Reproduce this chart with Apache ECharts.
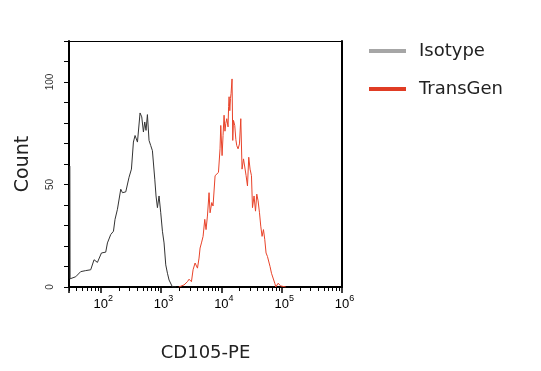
<!DOCTYPE html>
<html>
<head>
<meta charset="utf-8">
<script src="https://cdn.jsdelivr.net/npm/echarts@6/dist/echarts.min.js"></script>
<style>
html,body{margin:0;padding:0;background:#fff;}
#c{width:541px;height:371px;}
</style>
</head>
<body>
<div id="c"></div>
<script>
// x values are log10(fluorescence intensity)
const isoX = [1.488, 1.492, 1.519, 1.585, 1.668, 1.751, 1.834, 1.889, 1.945, 2.012, 2.083, 2.111, 2.166, 2.211, 2.237, 2.277, 2.332, 2.360, 2.415, 2.469, 2.509, 2.542, 2.569, 2.609, 2.652, 2.680, 2.708, 2.730, 2.751, 2.774, 2.801, 2.829, 2.857, 2.896, 2.917, 2.940, 2.967, 2.995, 3.023, 3.050, 3.078, 3.106, 3.133, 3.161, 3.189, 3.25];
const isoY = [59, 4, 3.8, 5, 7.5, 8, 8.4, 13.3, 12, 16.6, 17, 21.5, 25.6, 27.2, 33, 37.9, 47.7, 46, 46.4, 53.5, 57.5, 70.7, 73.9, 70.7, 84.9, 83, 75.6, 80.5, 76.4, 84.1, 71.5, 69, 66.5, 52.6, 44.4, 38.7, 44.4, 36.2, 27.2, 21.5, 10.8, 6.7, 3.4, 2.6, 0, 0];
const tgX = [3.294, 3.327, 3.381, 3.438, 3.464, 3.504, 3.531, 3.564, 3.604, 3.630, 3.647, 3.670, 3.697, 3.725, 3.746, 3.769, 3.796, 3.813, 3.841, 3.862, 3.896, 3.924, 3.952, 3.978, 3.990, 4.012, 4.028, 4.045, 4.060, 4.073, 4.090, 4.111, 4.120, 4.128, 4.140, 4.151, 4.161, 4.177, 4.189, 4.201, 4.222, 4.240, 4.255, 4.277, 4.300, 4.322, 4.343, 4.367, 4.388, 4.410, 4.433, 4.454, 4.476, 4.499, 4.516, 4.542, 4.566, 4.587, 4.609, 4.632, 4.653, 4.675, 4.698, 4.720, 4.741, 4.764, 4.791, 4.807, 4.831, 4.864, 4.886, 4.902, 4.940, 4.985, 5.013, 5.068];
const tgY = [0, 0, 1, 2.6, 3.8, 2.6, 8.4, 11.7, 9.2, 14.1, 19, 21.5, 24.7, 33, 28, 34.6, 46, 36.2, 41.2, 39.5, 54.3, 54.6, 55.9, 67.4, 78.8, 64.1, 73.9, 83.8, 76, 79.7, 82.1, 78.1, 88, 92.8, 86, 92, 94.4, 101.5, 71.5, 81.3, 78.8, 72, 69, 67.4, 69.8, 82.1, 57.5, 62.5, 63.3, 54.3, 49.3, 63.3, 57.5, 54.3, 38.7, 44.4, 37, 45.3, 42, 36.2, 29.7, 24.7, 28, 23.1, 16.6, 14.9, 14.1, 10, 6.7, 6.4, 1.8, 0, 1.8, 0.5, 1, 0];
const seriesNames = ['Isotype', 'TransGen'];
const decadeExponents = [2, 3, 4, 5, 6];
const yLabelValues = [0, 50, 100];

const XMIN = 1.474, XMAX = 6;
const minorTicks = [];
for (let n = 1; n <= 5; n++) {
  for (let k = 2; k <= 9; k++) {
    const v = Math.log10(k) + n;
    if (v >= XMIN && v <= XMAX) minorTicks.push(v);
  }
}
const majorTicks = [XMIN].concat(decadeExponents);

const chart = echarts.init(document.getElementById('c'), null, {renderer: 'canvas'});
const gridCfg = {left: 69, right: 199, top: 41, bottom: 84, containLabel: false};
const titleFont = 'DejaVu Sans';
const baseX = {
  type: 'value', min: XMIN, max: XMAX, gridIndex: 0,
  splitLine: {show: false}
};
chart.setOption({
  animation: false,
  backgroundColor: '#fff',
  grid: gridCfg,
  legend: {
    orient: 'vertical', left: 369, top: 41, padding: 0,
    itemWidth: 37, itemHeight: 4, itemGap: 18,
    icon: 'rect',
    textStyle: {fontFamily: titleFont, fontSize: 18, color: '#222', lineHeight: 20, padding: [0, 0, 0, 8]},
    data: seriesNames
  },
  xAxis: [
    Object.assign({}, baseX, {
      position: 'bottom',
      name: 'CD105-PE', nameLocation: 'middle', nameGap: 57,
      nameTextStyle: {fontFamily: titleFont, fontSize: 18, color: '#222'},
      axisLine: {show: true, lineStyle: {color: '#000', width: 2}},
      axisTick: {show: true, inside: false, length: 4, customValues: minorTicks, lineStyle: {color: '#000', width: 1}},
      axisLabel: {show: false}
    }),
    Object.assign({}, baseX, {
      position: 'bottom',
      axisLine: {show: false},
      axisTick: {show: true, inside: false, length: 6, customValues: majorTicks, lineStyle: {color: '#000', width: 1.5}},
      axisLabel: {
        show: true, margin: 7, customValues: decadeExponents,
        formatter: function (v) { return '{p|}{b|10}{s|' + Math.round(v) + '}'; },
        rich: {
          p: {width: 5, fontSize: 9},
          b: {fontFamily: 'Liberation Sans', fontSize: 13, color: '#000', lineHeight: 17, verticalAlign: 'bottom'},
          s: {fontFamily: 'Liberation Sans', fontSize: 9, color: '#000', lineHeight: 10, verticalAlign: 'top'}
        }
      }
    }),
    Object.assign({}, baseX, {
      position: 'top',
      axisLine: {show: true, lineStyle: {color: '#000', width: 1}},
      axisTick: {show: false}, axisLabel: {show: false}
    })
  ],
  yAxis: [
    {
      type: 'value', min: 0, max: 120, interval: 10, position: 'left',
      name: 'Count', nameLocation: 'middle', nameGap: 36, nameRotate: 90,
      nameTextStyle: {fontFamily: titleFont, fontSize: 19, color: '#222'},
      splitLine: {show: false},
      axisLine: {show: true, lineStyle: {color: '#000', width: 2}},
      axisTick: {show: true, inside: false, length: 5, lineStyle: {color: '#000', width: 1}},
      axisLabel: {
        show: true, rotate: 90, margin: 14,
        fontFamily: 'Liberation Sans', fontSize: 10, color: '#333',
        formatter: function (v) { return yLabelValues.indexOf(v) >= 0 ? String(v) : ''; }
      }
    },
    {
      type: 'value', min: 0, max: 120, position: 'right',
      splitLine: {show: false},
      axisLine: {show: true, lineStyle: {color: '#000', width: 2}},
      axisTick: {show: false}, axisLabel: {show: false}
    }
  ],
  series: [
    {
      name: seriesNames[0], type: 'line', xAxisIndex: 0, yAxisIndex: 0,
      showSymbol: false, symbol: 'none',
      itemStyle: {color: '#a6a6a6'},
      lineStyle: {color: '#333', width: 1},
      data: isoX.map((x, i) => [x, isoY[i]])
    },
    {
      name: seriesNames[1], type: 'line', xAxisIndex: 0, yAxisIndex: 0,
      showSymbol: false, symbol: 'none',
      itemStyle: {color: '#e03c24'},
      lineStyle: {color: '#e8432a', width: 1},
      data: tgX.map((x, i) => [x, tgY[i]])
    }
  ]
});
</script>
</body>
</html>
